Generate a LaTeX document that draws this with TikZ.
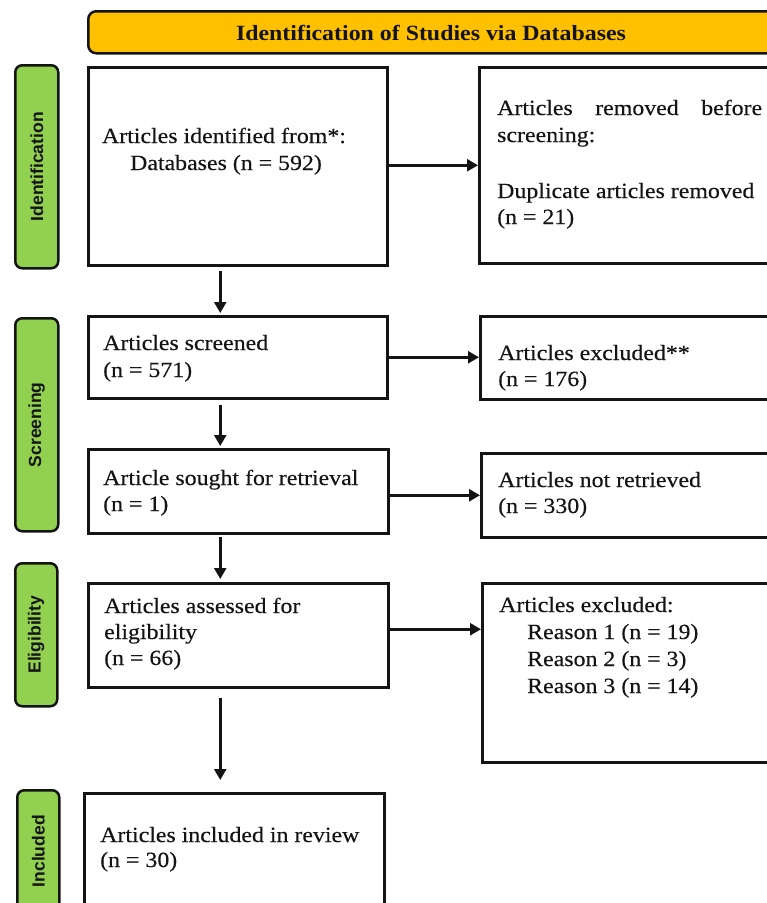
\documentclass[tikz,border=0pt]{standalone}
\usepackage{fontspec}
\setmainfont[FakeStretch=1.1,UprightFeatures={FakeBold=0.3},BoldFeatures={FakeBold=0}]{Liberation Serif}
\newfontfamily\labelfont{Liberation Sans}
\usetikzlibrary{arrows.meta}
\definecolor{hdr}{HTML}{FFC000}
\definecolor{grn}{HTML}{92D050}
\definecolor{ink}{HTML}{141414}
\begin{document}
\begin{tikzpicture}[x=1pt,y=-1pt,
  box/.style={draw=ink,line width=2.5pt,fill=white,inner sep=0pt,anchor=north west},
  phase/.style={draw=ink,line width=2.5pt,fill=grn,rounded corners=7pt,inner sep=0pt,anchor=north west},
  lab/.style={rotate=90,inner sep=0pt,text=ink,font=\labelfont\bfseries\fontsize{17.5}{20}\selectfont},
  txt/.style={inner sep=0pt,anchor=base west,text=ink,font=\fontsize{21.7}{26.5}\selectfont},
  arr/.style={draw=ink,line width=2.5pt,-{Triangle[length=11pt,width=12pt]}}]
\useasboundingbox (0,0) rectangle (767,903);
\clip (0,0) rectangle (767,903);
% header
\node[box,fill=hdr,rounded corners=8pt,minimum width=688pt,minimum height=42pt] (hd) at (87,10) {};
\node[inner sep=0pt,anchor=base,text=ink,font=\bfseries\fontsize{21.7}{26.5}\selectfont] (hdt) at (431,40.5) {Identification of Studies via Databases};
% phase bars
\node[phase,minimum width=43pt,minimum height=203pt] (p1) at (14,64) {};
\node[lab] (p1t) at (p1.center) {Identification};
\node[phase,minimum width=43pt,minimum height=213pt] (p2) at (14,317) {};
\node[lab] (p2t) at (p2.center) {Screening};
\node[phase,minimum width=42pt,minimum height=143pt] (p3) at (14,562) {};
\node[lab] (p3t) at (p3.center) {Eligibility};
\node[phase,minimum width=42pt,minimum height=122pt] (p4) at (16,789) {};
\node[lab] (p4t) at (p4.center) {Included};
% left boxes
\node[box,minimum width=299pt,minimum height=198pt] (b1) at (87,66) {};
\node[box,minimum width=299pt,minimum height=82pt] (b2) at (87,315) {};
\node[box,minimum width=300pt,minimum height=84pt] (b3) at (87,448) {};
\node[box,minimum width=300pt,minimum height=104pt] (b4) at (87,582) {};
\node[box,minimum width=300pt,minimum height=130pt] (b5) at (83,792) {};
% right boxes
\node[box,minimum width=298pt,minimum height=196pt] (r1) at (478,66) {};
\node[box,minimum width=298pt,minimum height=83pt] (r2) at (479,315) {};
\node[box,minimum width=298pt,minimum height=84pt] (r3) at (480,452) {};
\node[box,minimum width=298pt,minimum height=179pt] (r4) at (481,582) {};
% texts
\node[txt,anchor=base] (t1a) at (224,143) {Articles identified from*:};
\node[txt,anchor=base] (t1b) at (226,170) {Databases (n = 592)};
\node[txt] (u1a) at (497,115) {\hbox to 265pt{Articles\hfill removed\hfill before}};
\node[txt] (u1b) at (497,142) {screening:};
\node[txt] (u1c) at (497,198) {Duplicate articles removed};
\node[txt] (u1d) at (497,224) {(n = 21)};
\node[txt] (t2a) at (103,350) {Articles screened};
\node[txt] (t2b) at (103,377) {(n = 571)};
\node[txt] (u2a) at (498,360) {Articles excluded**};
\node[txt] (u2b) at (498,386) {(n = 176)};
\node[txt] (t3a) at (103,485) {Article sought for retrieval};
\node[txt] (t3b) at (103,511) {(n = 1)};
\node[txt] (u3a) at (498,487) {Articles not retrieved};
\node[txt] (u3b) at (498,513) {(n = 330)};
\node[txt] (t4a) at (104,613) {Articles assessed for};
\node[txt] (t4b) at (104,639) {eligibility};
\node[txt] (t4c) at (104,665) {(n = 66)};
\node[txt] (u4a) at (499,612) {Articles excluded:};
\node[txt] (u4b) at (527,639) {Reason 1 (n = 19)};
\node[txt] (u4c) at (527,666) {Reason 2 (n = 3)};
\node[txt] (u4d) at (527,693) {Reason 3 (n = 14)};
\node[txt] (t5a) at (100,842) {Articles included in review};
\node[txt] (t5b) at (100,867) {(n = 30)};
% horizontal arrows
\draw[arr] (b1.east |- r1.west) -- (r1.west);
\draw[arr] (b2.east) -- (b2.east -| r2.west);
\draw[arr] (b3.east |- r3.west) -- (r3.west);
\draw[arr] ([yshift=6pt]b4.east) -- ([yshift=6pt]b4.east -| r4.west);
% vertical arrows
\draw[arr,shorten <=4pt,shorten >=2pt] ([xshift=-17.5pt]b1.south) -- ([xshift=-17.5pt]b1.south |- b2.north);
\draw[arr,shorten <=5pt,shorten >=2pt] ([xshift=-17.5pt]b2.south) -- ([xshift=-17.5pt]b2.south |- b3.north);
\draw[arr,shorten <=2pt,shorten >=3pt] ([xshift=-18pt]b3.south) -- ([xshift=-18pt]b3.south |- b4.north);
\draw[arr,shorten <=9pt,shorten >=12pt] ([xshift=-18pt]b4.south) -- ([xshift=-18pt]b4.south |- b5.north);
\end{tikzpicture}
\end{document}
